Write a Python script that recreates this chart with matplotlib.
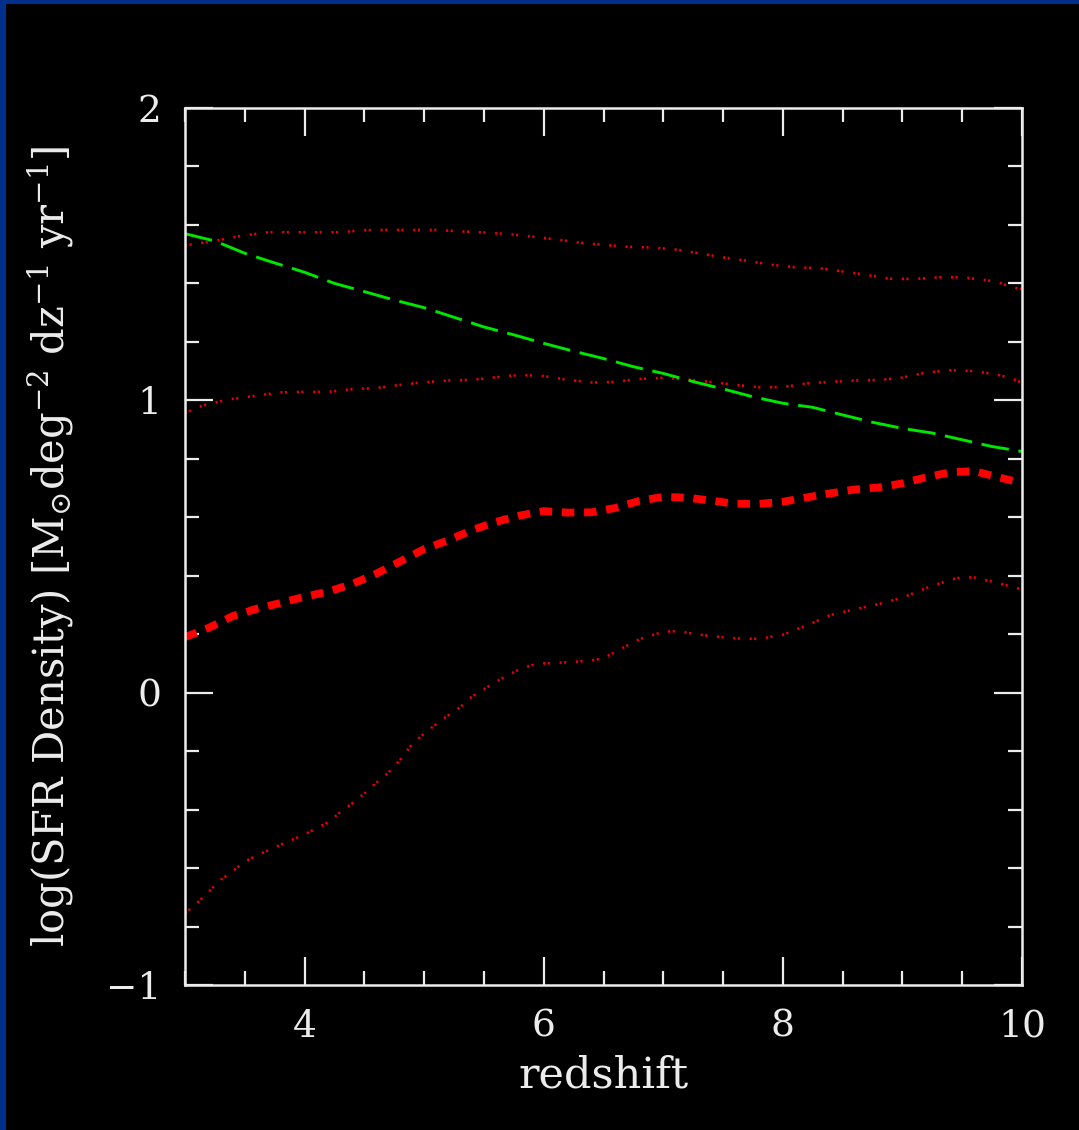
import numpy as np
import matplotlib
matplotlib.use("Agg")
import matplotlib.pyplot as plt
from matplotlib.patches import Rectangle
from matplotlib.ticker import MultipleLocator

# Courbe verte (tirets) : densité de SFR attendue
z_vert = [3.0, 3.25, 3.5, 3.75, 4.0, 4.25, 4.5, 4.75, 5.0, 5.25, 5.5, 5.75, 6.0, 6.25,
          6.5, 6.75, 7.0, 7.25, 7.5, 7.75, 8.0, 8.25, 8.5, 8.75, 9.0, 9.25, 9.5, 9.75, 10.0]
sfr_vert = [1.57, 1.545, 1.503, 1.47, 1.438, 1.40, 1.372, 1.343, 1.317, 1.284, 1.251, 1.224,
            1.195, 1.168, 1.143, 1.115, 1.092, 1.064, 1.039, 1.012, 0.990, 0.976, 0.950,
            0.925, 0.904, 0.888, 0.865, 0.842, 0.825]

# Courbe rouge épaisse : valeur centrale
z_rouge = [3.0, 3.2, 3.4, 3.6, 3.8, 4.0, 4.2, 4.4, 4.6, 4.8, 5.0, 5.2, 5.4, 5.6, 5.8, 6.0,
           6.2, 6.4, 6.6, 6.8, 7.0, 7.2, 7.4, 7.6, 7.8, 8.0, 8.2, 8.4, 8.6, 8.8, 9.0, 9.2,
           9.4, 9.6, 9.8, 10.0]
sfr_rouge = [0.19, 0.222, 0.262, 0.287, 0.307, 0.328, 0.346, 0.372, 0.407, 0.449, 0.491,
             0.521, 0.556, 0.584, 0.606, 0.621, 0.616, 0.617, 0.632, 0.656, 0.670, 0.667,
             0.657, 0.646, 0.646, 0.653, 0.668, 0.682, 0.695, 0.702, 0.716, 0.737, 0.754,
             0.758, 0.737, 0.717]

# Courbes rouges pointillées (bornes)
z_bas = [3.0, 3.1, 3.2, 3.3, 3.4, 3.5, 3.6, 3.8, 4.0, 4.2, 4.3, 4.4, 4.5, 4.6, 4.7, 4.8,
         4.9, 5.0, 5.1, 5.2, 5.3, 5.4, 5.5, 5.6, 5.7, 5.8, 5.9, 6.0, 6.2, 6.4, 6.5, 6.6,
         6.8, 7.0, 7.1, 7.2, 7.4, 7.6, 7.8, 8.0, 8.2, 8.4, 8.6, 8.8, 9.0, 9.2, 9.4, 9.5,
         9.6, 9.8, 10.0]
sfr_bas = [-0.755, -0.72, -0.68, -0.64, -0.61, -0.578, -0.557, -0.52, -0.485, -0.443,
           -0.408, -0.378, -0.345, -0.308, -0.274, -0.229, -0.176, -0.14, -0.108, -0.078,
           -0.05, -0.013, 0.012, 0.037, 0.06, 0.08, 0.094, 0.10, 0.104, 0.11, 0.118, 0.14,
           0.183, 0.208, 0.21, 0.205, 0.193, 0.186, 0.184, 0.198, 0.23, 0.266, 0.285,
           0.303, 0.325, 0.358, 0.386, 0.395, 0.394, 0.375, 0.353]

z_mil = [3.0, 3.1, 3.2, 3.3, 3.4, 3.6, 3.8, 4.0, 4.2, 4.4, 4.6, 4.8, 5.0, 5.2, 5.4, 5.6,
         5.8, 6.0, 6.2, 6.4, 6.6, 6.8, 7.0, 7.2, 7.4, 7.6, 7.8, 8.0, 8.2, 8.4, 8.6, 8.8,
         9.0, 9.2, 9.4, 9.6, 9.8, 9.9, 10.0]
sfr_mil = [0.955, 0.976, 0.988, 0.997, 1.005, 1.016, 1.027, 1.029, 1.029, 1.038, 1.042,
           1.053, 1.062, 1.068, 1.07, 1.079, 1.087, 1.083, 1.07, 1.061, 1.063, 1.073,
           1.077, 1.071, 1.063, 1.053, 1.045, 1.045, 1.058, 1.063, 1.068, 1.069, 1.078,
           1.095, 1.103, 1.1, 1.087, 1.077, 1.06]

z_haut = [3.0, 3.1, 3.25, 3.4, 3.55, 3.7, 3.9, 4.1, 4.3, 4.5, 4.7, 4.9, 5.1, 5.3, 5.5,
          5.7, 5.9, 6.1, 6.3, 6.5, 6.7, 6.9, 7.1, 7.3, 7.5, 7.7, 7.9, 8.1, 8.3, 8.5, 8.7,
          8.9, 9.1, 9.3, 9.5, 9.7, 9.8, 9.9, 10.0]
sfr_haut = [1.53, 1.536, 1.545, 1.558, 1.567, 1.575, 1.575, 1.575, 1.575, 1.582, 1.583,
            1.583, 1.583, 1.578, 1.574, 1.569, 1.56, 1.551, 1.539, 1.532, 1.525, 1.523,
            1.516, 1.503, 1.489, 1.477, 1.464, 1.455, 1.452, 1.441, 1.429, 1.416, 1.415,
            1.421, 1.421, 1.411, 1.404, 1.389, 1.38]

blanc = '#ececec'
plt.rcParams['lines.scale_dashes'] = False
plt.rcParams['mathtext.fontset'] = 'dejavuserif'
plt.rcParams['font.family'] = 'DejaVu Serif'

fig = plt.figure(figsize=(10.79, 11.3), dpi=100, facecolor='#00308c')
# fond noir avec une fine bordure bleue à gauche et en haut
fig.add_artist(Rectangle((6 / 1079, 0), 1, 1 - 4 / 1130, transform=fig.transFigure,
                         facecolor='black', edgecolor='none', zorder=-10))

ax = fig.add_axes([185 / 1079, 1 - 985 / 1130, 837 / 1079, 877 / 1130])
ax.set_facecolor('black')

pointille = (0, (1.5, 1.8, 1.5, 7.0))
for z, s in [(z_haut, sfr_haut), (z_mil, sfr_mil), (z_bas, sfr_bas)]:
    ax.plot(z, s, color='#ee0000', lw=1.9, linestyle=pointille, dash_capstyle='butt')
ax.plot(z_vert, sfr_vert, color='#00e600', lw=2.1, linestyle=(0, (20, 7)))
ax.plot(z_rouge, sfr_rouge, color='#ff0000', lw=5.6, linestyle=(0, (9, 7)),
        dash_capstyle='butt')

ax.set_xlim(3, 10)
ax.set_ylim(-1, 2)
ax.xaxis.set_major_locator(MultipleLocator(2))
ax.xaxis.set_minor_locator(MultipleLocator(0.5))
ax.yaxis.set_major_locator(MultipleLocator(1))
ax.yaxis.set_minor_locator(MultipleLocator(0.2))
ax.tick_params(which='both', direction='in', top=True, right=True, colors=blanc,
               width=1.6, labelsize=27, pad=17)
ax.tick_params(which='major', length=20)
ax.tick_params(which='minor', length=10)
for sp in ax.spines.values():
    sp.set_color(blanc)
    sp.set_linewidth(1.8)

ax.set_xlabel('redshift', color=blanc, fontsize=31)
ax.xaxis.set_label_coords(0.5, -0.103)
ax.xaxis.label.set_va('center')
ax.set_ylabel(r'log(SFR Density) [M$_{\odot}$deg$^{-2}$ dz$^{-1}$ yr$^{-1}$]',
              color=blanc, fontsize=30)
ax.yaxis.set_label_coords(-0.16, 0.5)
ax.yaxis.label.set_va('center')

fig.savefig('out.png', dpi=100, facecolor=fig.get_facecolor())
